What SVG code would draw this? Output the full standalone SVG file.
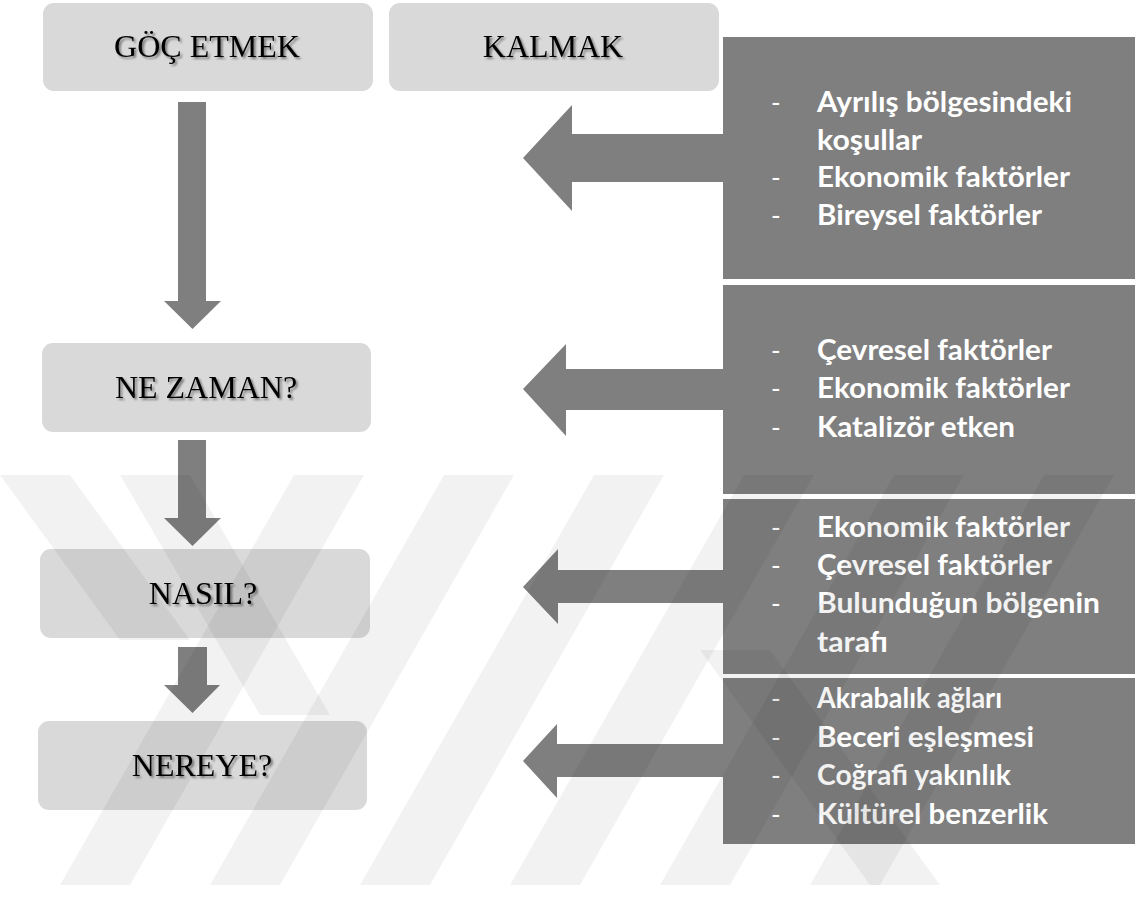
<svg xmlns="http://www.w3.org/2000/svg" width="1135" height="909" viewBox="0 0 1135 909">
<style>
.box{fill:#d9d9d9;stroke:#ffffff;stroke-width:2}
.lbl{font-family:"Liberation Serif","Times New Roman",serif;font-size:32px;fill:#000;text-anchor:middle}
.arr{fill:#7f7f7f}
.panel{fill:#7f7f7f}
.item{font-family:Lato,"Liberation Sans",sans-serif;font-weight:700;font-size:28px;fill:#ffffff}
.dash{font-family:Lato,"Liberation Sans",sans-serif;font-size:26px;fill:#ffffff}
.wm{fill:#000;fill-opacity:0.05}
</style>
<defs>
<filter id="ts" x="-10%" y="-30%" width="120%" height="160%">
<feGaussianBlur in="SourceAlpha" stdDeviation="1.2"/>
<feOffset dx="1.5" dy="1.5" result="b"/>
<feComponentTransfer><feFuncA type="linear" slope="0.45"/></feComponentTransfer>
<feMerge><feMergeNode/><feMergeNode in="SourceGraphic"/></feMerge>
</filter>
</defs>
<rect width="1135" height="909" fill="#ffffff"/>

<g id="node-goc">
<rect class="box" x="42" y="2" width="332" height="90" rx="12"/>
<text class="lbl" x="207" y="57" filter="url(#ts)">GÖÇ ETMEK</text>
</g>
<g id="node-kalmak">
<rect class="box" x="388" y="2" width="332" height="90" rx="12"/>
<text class="lbl" x="553" y="57" filter="url(#ts)">KALMAK</text>
</g>
<g id="node-nezaman">
<rect class="box" x="41" y="342" width="331" height="91" rx="12"/>
<text class="lbl" x="206" y="398" filter="url(#ts)">NE ZAMAN?</text>
</g>
<g id="node-nasil">
<rect class="box" x="39" y="548" width="332" height="91" rx="12"/>
<text class="lbl" x="203" y="604" filter="url(#ts)">NASIL?</text>
</g>
<g id="node-nereye">
<rect class="box" x="37" y="720" width="331" height="91" rx="12"/>
<text class="lbl" x="202" y="776" filter="url(#ts)">NEREYE?</text>
</g>

<g id="panel-1">
<rect class="panel" x="723" y="37" width="412" height="242"/>
<text class="dash" x="771" y="112">-</text><text class="item" x="817" y="112" textLength="255" lengthAdjust="spacingAndGlyphs">Ayrılış bölgesindeki</text>
<text class="item" x="817" y="149.5" textLength="105" lengthAdjust="spacingAndGlyphs">koşullar</text>
<text class="dash" x="771" y="187">-</text><text class="item" x="817" y="187" textLength="253" lengthAdjust="spacingAndGlyphs">Ekonomik faktörler</text>
<text class="dash" x="771" y="224.5">-</text><text class="item" x="817" y="224.5" textLength="225" lengthAdjust="spacingAndGlyphs">Bireysel faktörler</text>
</g>
<g id="panel-2">
<rect class="panel" x="723" y="285" width="412" height="209"/>
<text class="dash" x="771" y="360">-</text><text class="item" x="817" y="360" textLength="235" lengthAdjust="spacingAndGlyphs">Çevresel faktörler</text>
<text class="dash" x="771" y="398">-</text><text class="item" x="817" y="398" textLength="253" lengthAdjust="spacingAndGlyphs">Ekonomik faktörler</text>
<text class="dash" x="771" y="437">-</text><text class="item" x="817" y="437" textLength="198" lengthAdjust="spacingAndGlyphs">Katalizör etken</text>
</g>
<g id="panel-3">
<rect class="panel" x="723" y="499" width="412" height="175"/>
<text class="dash" x="771" y="537">-</text><text class="item" x="817" y="537" textLength="253" lengthAdjust="spacingAndGlyphs">Ekonomik faktörler</text>
<text class="dash" x="771" y="575">-</text><text class="item" x="817" y="575" textLength="235" lengthAdjust="spacingAndGlyphs">Çevresel faktörler</text>
<text class="dash" x="771" y="613">-</text><text class="item" x="817" y="613" textLength="283" lengthAdjust="spacingAndGlyphs">Bulunduğun bölgenin</text>
<text class="item" x="817" y="652" textLength="71" lengthAdjust="spacingAndGlyphs">tarafı</text>
</g>
<g id="panel-4">
<rect class="panel" x="723" y="678" width="412" height="166"/>
<text class="dash" x="771" y="708">-</text><text class="item" x="817" y="708" textLength="185" lengthAdjust="spacingAndGlyphs">Akrabalık ağları</text>
<text class="dash" x="771" y="746.5">-</text><text class="item" x="817" y="746.5" textLength="217" lengthAdjust="spacingAndGlyphs">Beceri eşleşmesi</text>
<text class="dash" x="771" y="785">-</text><text class="item" x="817" y="785" textLength="194" lengthAdjust="spacingAndGlyphs">Coğrafi yakınlık</text>
<text class="dash" x="771" y="823.5">-</text><text class="item" x="817" y="823.5" textLength="231" lengthAdjust="spacingAndGlyphs">Kültürel benzerlik</text>
</g>

<g id="connectors">
<polygon class="arr" points="178,102 206,102 206,301 221,301 192.5,329 164,301 178,301"/>
<polygon class="arr" points="178,440 206,440 206,518 221,518 192.5,546 164,518 178,518"/>
<polygon class="arr" points="178,647 207,647 207,685 220,685 192.5,713 164,685 178,685"/>
<polygon class="arr" points="723,134 572,134 572,105 523,158 572,211 572,182 723,182"/>
<polygon class="arr" points="723,369 566,369 566,344 523,389 566,436 566,410 723,410"/>
<polygon class="arr" points="723,570 558,570 558,549 523,587 558,624 558,603 723,603"/>
<polygon class="arr" points="723,744 557,744 557,724 523,761 557,798 557,777 723,777"/>
</g>

<g id="watermark">
<polygon class="wm" points="60,885 130,885 364,475 294,475"/>
<polygon class="wm" points="210,885 280,885 514,475 444,475"/>
<polygon class="wm" points="360,885 430,885 664,475 594,475"/>
<polygon class="wm" points="510,885 580,885 814,475 744,475"/>
<polygon class="wm" points="660,885 730,885 964,475 894,475"/>
<polygon class="wm" points="810,885 880,885 1114,475 1044,475"/>
<polygon class="wm" points="0,475 70,475 190,640 120,640"/>
<polygon class="wm" points="120,475 190,475 330,715 260,715"/>
<polygon class="wm" points="700,650 770,650 940,885 870,885"/>
</g>
</svg>
